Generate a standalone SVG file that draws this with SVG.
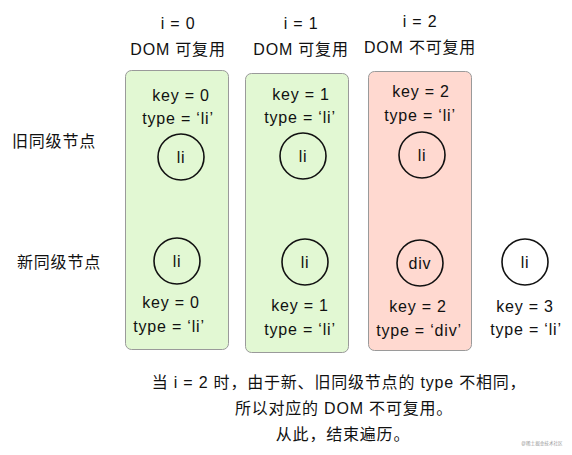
<svg xmlns="http://www.w3.org/2000/svg" width="572" height="455" viewBox="0 0 572 455">
<style>
text{font-family:"Liberation Sans","Noto Sans CJK SC",sans-serif;font-size:16px;letter-spacing:0.8px;fill:#111;text-anchor:middle;dominant-baseline:central}
.box{stroke:#9a9a9a;stroke-width:1}
.green{fill:#e2f8d3}
.red{fill:#ffd9d0}
.node{fill:none;stroke:#111;stroke-width:1.6}
.lbl{text-anchor:start}
.wm{font-size:4.6px;letter-spacing:0;fill:#999}
</style>
<rect width="572" height="455" fill="#fff"/>
<g id="headers">
<text x="178" y="23">i = 0</text>
<text x="178" y="49">DOM 可复用</text>
<text x="301" y="23">i = 1</text>
<text x="301" y="49">DOM 可复用</text>
<text x="420" y="21">i = 2</text>
<text x="420" y="47">DOM 不可复用</text>
</g>
<g id="row-labels">
<text class="lbl" x="12" y="141">旧同级节点</text>
<text class="lbl" x="17" y="262">新同级节点</text>
</g>
<g id="col0">
<rect class="box green" x="125.5" y="70.5" width="103" height="279" rx="6"/>
<text x="181" y="95">key = 0</text>
<text x="178" y="118">type = ‘li’</text>
</g>
<g id="col1">
<rect class="box green" x="245.5" y="73.5" width="103" height="279" rx="6"/>
<text x="301" y="94">key = 1</text>
<text x="300" y="117">type = ‘li’</text>
</g>
<g id="col2">
<rect class="box red" x="368.5" y="71.5" width="103" height="279" rx="6"/>
<text x="421" y="91">key = 2</text>
<text x="420" y="115">type = ‘li’</text>
</g>
<g id="old-li-0"><circle class="node" cx="181" cy="157" r="23"/><text x="181" y="157">li</text></g>
<g id="old-li-1"><circle class="node" cx="303" cy="156" r="23"/><text x="303" y="156">li</text></g>
<g id="old-li-2"><circle class="node" cx="422" cy="155" r="23"/><text x="422" y="155">li</text></g>
<g id="new-li-0"><circle class="node" cx="177" cy="261" r="23"/><text x="177" y="261">li</text></g>
<g id="new-li-1"><circle class="node" cx="305" cy="262" r="23"/><text x="305" y="262">li</text></g>
<g id="new-div-2"><circle class="node" cx="420" cy="263" r="23"/><text x="420" y="263">div</text></g>
<g id="new-li-3"><circle class="node" cx="525" cy="262" r="23"/><text x="525" y="262">li</text></g>
<g id="new-labels">
<text x="171" y="302">key = 0</text>
<text x="169" y="326">type = ‘li’</text>
<text x="300" y="305">key = 1</text>
<text x="300" y="329">type = ‘li’</text>
<text x="418" y="306">key = 2</text>
<text x="419" y="330">type = ‘div’</text>
<text x="525" y="306">key = 3</text>
<text x="526" y="329">type = ‘li’</text>
</g>
<g id="connectors"></g>
<g id="caption">
<text x="339" y="382">当 i = 2 时，由于新、旧同级节点的 type 不相同，</text>
<text x="344" y="408">所以对应的 DOM 不可复用。</text>
<text x="343" y="434">从此，结束遍历。</text>
<text class="wm" x="542" y="443">@稀土掘金技术社区</text>
</g>
</svg>
